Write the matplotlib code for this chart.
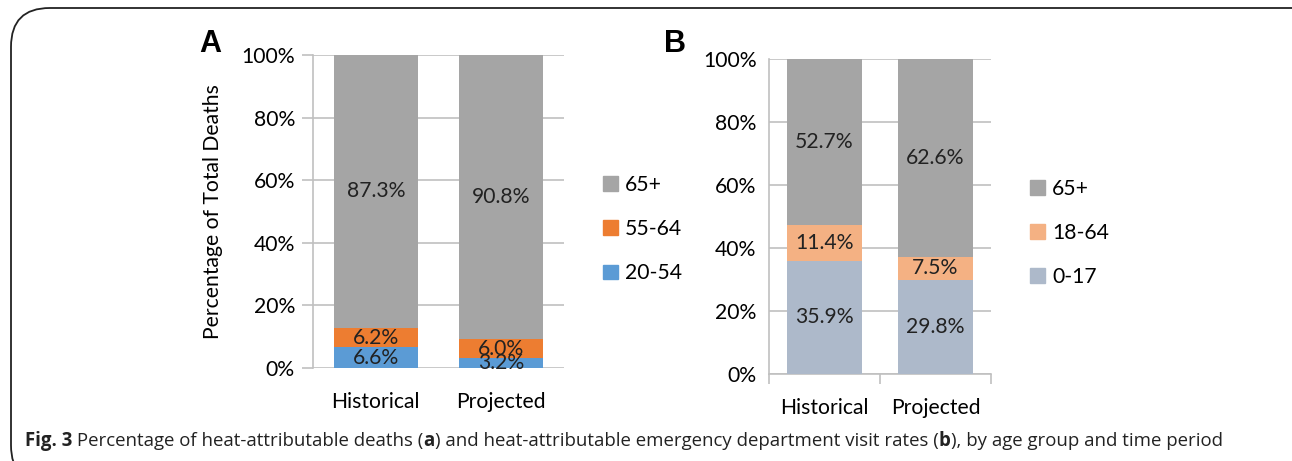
import matplotlib
matplotlib.use("Agg")
import matplotlib.pyplot as plt
from matplotlib.patches import FancyBboxPatch, Patch

plt.rcParams['font.family'] = ['Lato', 'DejaVu Sans']

periods = ["Historical", "Projected"]

# panel A: share of heat-attributable deaths
deaths_groups = ["20-54", "55-64", "65+"]
deaths_vals = [[6.6, 3.2], [6.2, 6.0], [87.3, 90.8]]
deaths_colors = ["#5B9BD5", "#ED7D31", "#A5A5A5"]

# panel B: share of heat-attributable ED visits
ed_groups = ["0-17", "18-64", "65+"]
ed_vals = [[35.9, 29.8], [11.4, 7.5], [52.7, 62.6]]
ed_colors = ["#ADB9CA", "#F4B183", "#A5A5A5"]

yticks = [0, 20, 40, 60, 80, 100]
W, H = 1292, 461
fs = 15.2
grid_c = "#C0C0C0"

fig = plt.figure(figsize=(W / 100, H / 100), dpi=100)


def px(x0, y0, x1, y1):
    return [x0 / W, 1 - y1 / H, (x1 - x0) / W, (y1 - y0) / H]


def stacked(ax, vals, colors, groups):
    bottom = [0, 0]
    for v, c, g in zip(vals, colors, groups):
        bars = ax.bar(range(len(periods)), v, width=0.67, bottom=bottom,
                      color=c, label=g, zorder=3)
        for b, val, bt in zip(bars, v, bottom):
            ax.text(b.get_x() + b.get_width() / 2, bt + val / 2,
                    f"{val:.1f}%", ha="center", va="center",
                    fontsize=fs, color="#222222", zorder=4)
        bottom = [a + b for a, b in zip(bottom, v)]
    ax.set_xlim(-0.5, 1.5)
    ax.set_ylim(0, 100)
    ax.set_yticks(yticks)
    ax.set_yticklabels([f"{t}%" for t in yticks], fontsize=fs)
    ax.set_xticks(range(len(periods)))
    ax.set_xticklabels(periods, fontsize=fs)
    ax.yaxis.grid(True, color=grid_c, lw=1.2, zorder=0)
    ax.set_axisbelow(True)
    for s in ["top", "right", "bottom"]:
        ax.spines[s].set_visible(False)
    ax.spines["left"].set_color(grid_c)
    ax.spines["left"].set_linewidth(1.2)


# ---- A ----
axA = fig.add_axes(px(313, 55, 564, 368))
stacked(axA, deaths_vals, deaths_colors, deaths_groups)
axA.tick_params(axis="y", length=8, color=grid_c, width=1.2, pad=5)
axA.tick_params(axis="x", length=0, pad=17)
axA.set_ylabel("Percentage of Total Deaths", fontsize=fs, labelpad=13)
hA = [Patch(color=c) for c in deaths_colors][::-1]
fig.legend(hA, deaths_groups[::-1], loc="center left",
           bbox_to_anchor=(603 / W, 1 - 229 / H), frameon=False,
           fontsize=fs, handlelength=0.7, handleheight=0.7,
           handletextpad=0.35, labelspacing=1.15, borderpad=0,
           borderaxespad=0)

# ---- B ----
axB = fig.add_axes(px(769, 59, 991, 374))
stacked(axB, ed_vals, ed_colors, ed_groups)
axB.tick_params(axis="y", length=0, pad=9)
axB.tick_params(axis="x", length=0, pad=17)
axB.spines["bottom"].set_visible(True)
axB.spines["bottom"].set_color(grid_c)
axB.spines["bottom"].set_linewidth(1.2)
axB.set_xticks([-0.5, 0.5, 1.5], minor=True)
axB.tick_params(axis="x", which="minor", length=7, color=grid_c, width=1.2)
hB = [Patch(color=c) for c in ed_colors][::-1]
fig.legend(hB, ed_groups[::-1], loc="center left",
           bbox_to_anchor=(1030 / W, 1 - 233 / H), frameon=False,
           fontsize=fs, handlelength=0.7, handleheight=0.7,
           handletextpad=0.35, labelspacing=1.15, borderpad=0,
           borderaxespad=0)

# panel letters
fig.text(199 / W, 1 - 52 / H, "A", fontsize=22, fontweight="bold",
         family="Liberation Sans", va="baseline")
fig.text(664 / W, 1 - 52 / H, "B", fontsize=22, fontweight="bold",
         family="Liberation Sans", va="baseline")

# rounded frame
frame = FancyBboxPatch((11 / W, -0.05), 1.2, 1 - 8 / H + 0.05,
                       boxstyle="round,pad=0,rounding_size=0.03",
                       transform=fig.transFigure, fill=False,
                       ec="#222222", lw=1.3, mutation_aspect=W / H)
fig.patches.append(frame)

# caption with bold pieces
pieces = [("Fig. 3", "bold"), (" Percentage of heat-attributable deaths (", "normal"),
          ("a", "bold"), (") and heat-attributable emergency department visit rates (", "normal"),
          ("b", "bold"), ("), by age group and time period", "normal")]
renderer = fig.canvas.get_renderer()
x = 25 / W
for txt, wt in pieces:
    t = fig.text(x, 1 - 446 / H, txt, fontsize=13.4, fontweight=wt,
                 family="Open Sans", va="baseline", color="#222222")
    bb = t.get_window_extent(renderer)
    x += bb.width / W

fig.savefig("out.png", dpi=100)
